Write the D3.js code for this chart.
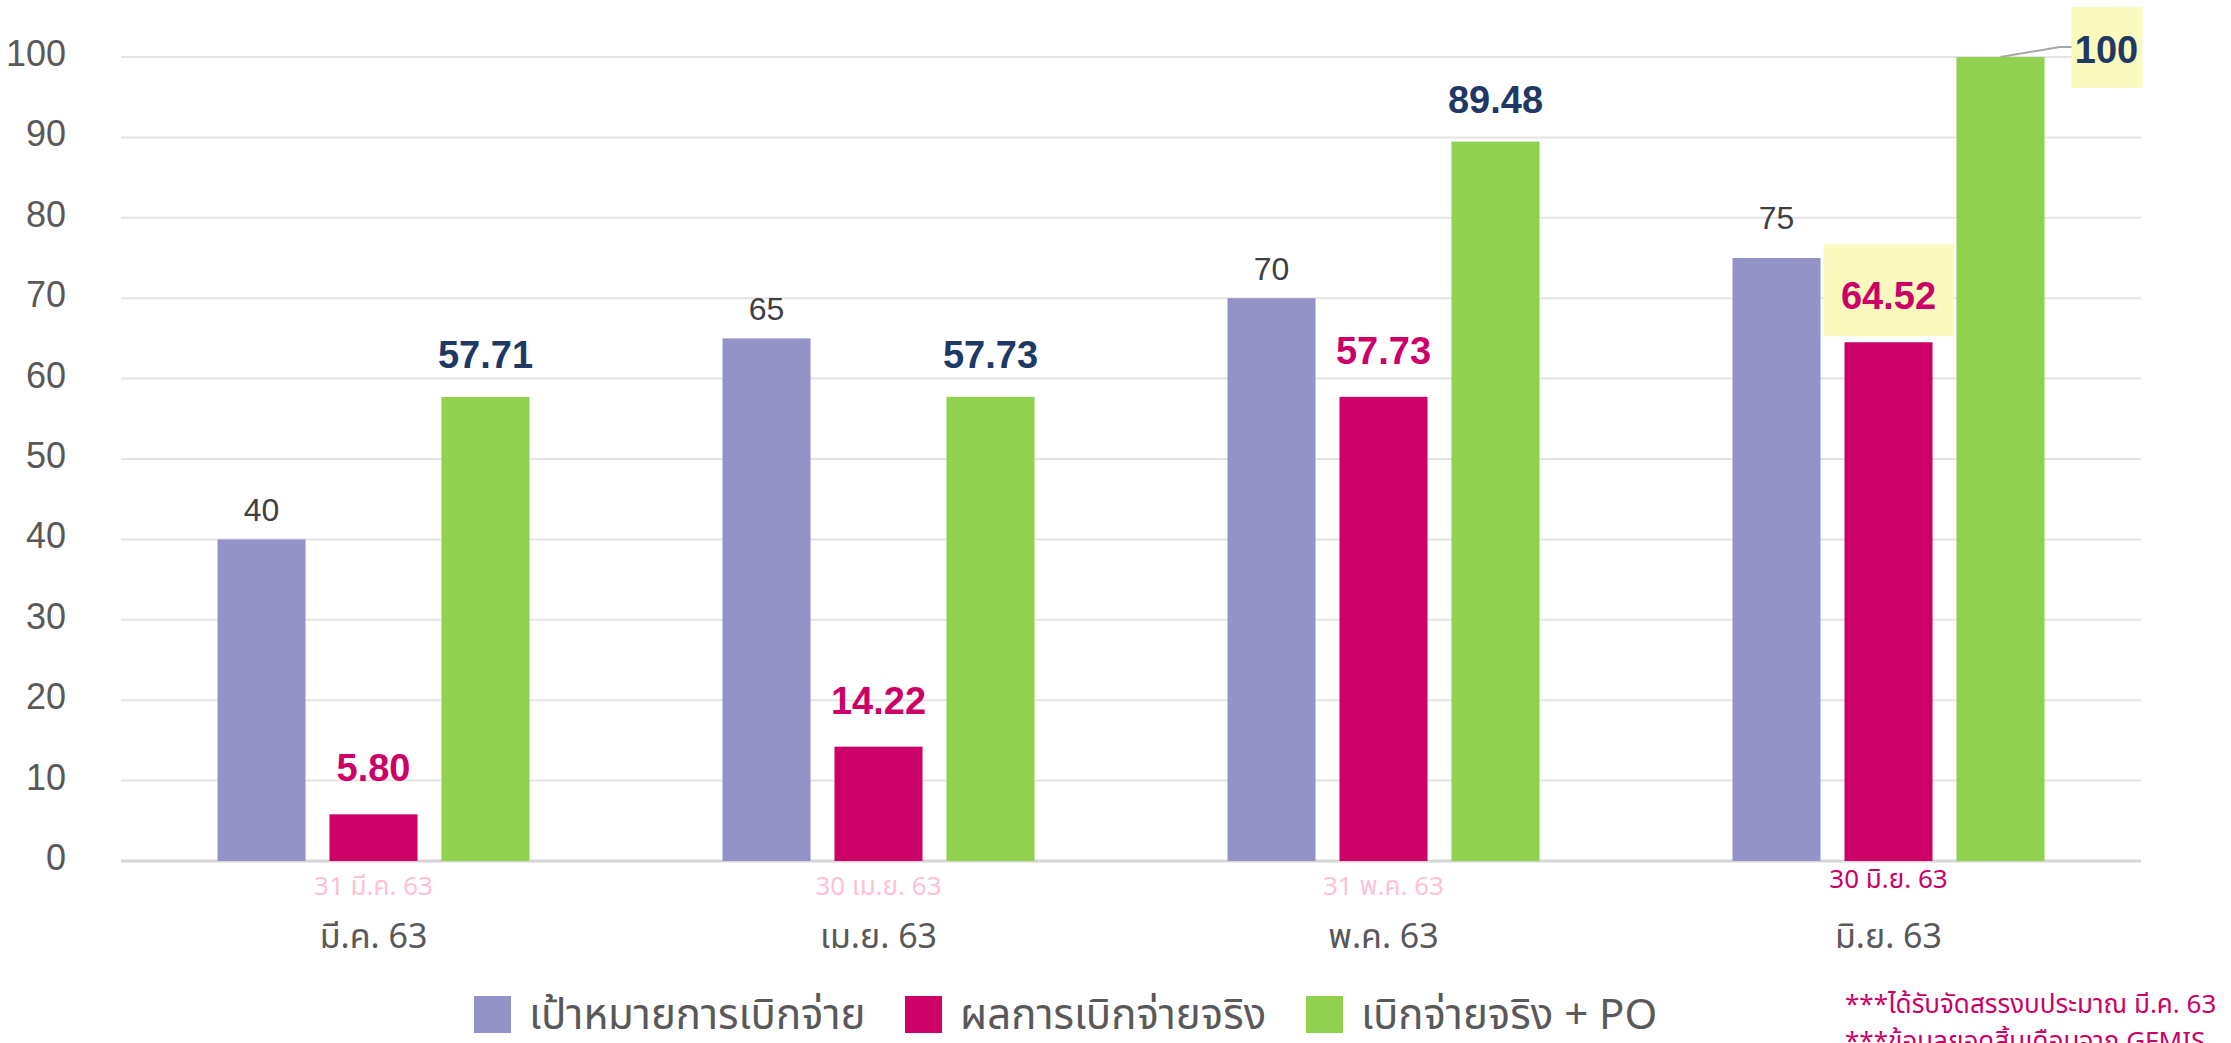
<!DOCTYPE html>
<html>
<head>
<meta charset="utf-8">
<script src="https://cdn.jsdelivr.net/npm/d3@7"></script>
<style>
  body { margin: 0; background: #fff; }
  svg { display: block; }
  .num { font-family: "Liberation Sans Narrow", "Liberation Sans", sans-serif; }
  .th { font-family: "Noto Sans Thai", "Noto Sans", sans-serif; }
</style>
</head>
<body>
<svg id="chart"></svg>
<script>
// data
var categories = ["มี.ค. 63", "เม.ย. 63", "พ.ค. 63", "มิ.ย. 63"];
var dateLabels = ["31 มี.ค. 63", "30 เม.ย. 63", "31 พ.ค. 63", "30 มิ.ย. 63"];
var seriesNames = ["เป้าหมายการเบิกจ่าย", "ผลการเบิกจ่ายจริง", "เบิกจ่ายจริง + PO"];
var targetValues = [40, 65, 70, 75];
var actualValues = [5.80, 14.22, 57.73, 64.52];
var actualPOValues = [57.71, 57.73, 89.48, 100];
var yTicks = [0, 10, 20, 30, 40, 50, 60, 70, 80, 90, 100];
var notes = ["***ได้รับจัดสรรงบประมาณ มี.ค. 63", "***ข้อมูลยอดสิ้นเดือนจาก GFMIS"];

window.onload = function () {
    var W = 2231, H = 1043;
    var colors = ["#9393C8", "#CC0066", "#92D050"];
    var labelColors = ["#404040", "#CC0066", "#1F3864"];

    var svg = d3.select("#chart").attr("width", W).attr("height", H);

    var y = d3.scaleLinear().domain([0, 100]).range([861, 57]);
    var x0 = d3.scaleBand().domain(categories).range([121, 2141]);
    var x1 = d3.scaleBand().domain([0, 1, 2]).range([-156, 156]).paddingInner(0.214);

    // gridlines
    svg.append("g").selectAll("line").data(yTicks).enter().append("line")
        .attr("x1", 121).attr("x2", 2141)
        .attr("y1", function (d) { return y(d); })
        .attr("y2", function (d) { return y(d); })
        .style("stroke", function (d) { return d == 0 ? "#d6d6d6" : "#e4e4e4"; })
        .style("stroke-width", function (d) { return d == 0 ? 3 : 2; });

    // y tick labels
    svg.append("g").selectAll("text").data(yTicks).enter().append("text")
        .attr("class", "num")
        .attr("x", 66).attr("y", function (d) { return y(d) + 9; })
        .attr("text-anchor", "end")
        .style("font-size", "36px").style("fill", "#595959")
        .text(function (d) { return d; });

    var series = [targetValues, actualValues, actualPOValues];
    var fmt = function (v) { return Number.isInteger(v) ? String(v) : v.toFixed(2); };

    // highlight boxes (June actual, June actual+PO)
    var jun = categories[3];
    var redTop = y(actualValues[3]);
    svg.append("rect")
        .attr("x", x0(jun) + x0.bandwidth() / 2 + x1(1) + x1.bandwidth() / 2 - 65)
        .attr("y", redTop - 98).attr("width", 130).attr("height", 92)
        .style("fill", "#FAFABE");

    var greenX = x0(jun) + x0.bandwidth() / 2 + x1(2) + x1.bandwidth() / 2;
    svg.append("rect")
        .attr("x", greenX + 71).attr("y", y(actualPOValues[3]) - 50)
        .attr("width", 71).attr("height", 81)
        .style("fill", "#FAFABE");
    svg.append("polyline")
        .attr("points", [[greenX, y(actualPOValues[3])], [greenX + 59, y(actualPOValues[3]) - 10], [greenX + 71, y(actualPOValues[3]) - 10]].join(" "))
        .style("fill", "none").style("stroke", "#a6a6a6").style("stroke-width", 2);

    // bars + labels
    series.forEach(function (vals, s) {
        var g = svg.append("g");
        g.selectAll("rect").data(vals).enter().append("rect")
            .attr("x", function (d, i) { return x0(categories[i]) + x0.bandwidth() / 2 + x1(s); })
            .attr("y", function (d) { return y(d); })
            .attr("width", x1.bandwidth())
            .attr("height", function (d) { return y(0) - y(d); })
            .style("fill", colors[s]);

        g.selectAll("text").data(vals).enter().append("text")
            .attr("class", "num")
            .attr("x", function (d, i) {
                var cx = x0(categories[i]) + x0.bandwidth() / 2 + x1(s) + x1.bandwidth() / 2;
                if (s == 2 && i == 3) return cx + 106;
                return cx;
            })
            .attr("y", function (d, i) {
                if (s == 2 && i == 3) return y(d) + 6;
                if (s == 0 && i == 3) return y(d) - 29;
                return y(d) - [18, 33, 29][s];
            })
            .attr("text-anchor", "middle")
            .style("font-size", s == 0 ? "32px" : "38px")
            .style("font-weight", s == 0 ? "normal" : "bold")
            .style("fill", labelColors[s])
            .text(function (d) { return fmt(d); });
    });

    // date labels under the axis
    svg.append("g").selectAll("text").data(dateLabels).enter().append("text")
        .attr("class", "th")
        .attr("x", function (d, i) { return x0(categories[i]) + x0.bandwidth() / 2; })
        .attr("y", function (d, i) { return i == 3 ? 888 : 895; })
        .attr("text-anchor", "middle")
        .style("font-size", "26px")
        .style("fill", function (d, i) { return i == 3 ? "#CC0066" : "#FFC1D6"; })
        .text(function (d) { return d; });

    // category labels
    svg.append("g").selectAll("text").data(categories).enter().append("text")
        .attr("class", "th")
        .attr("x", function (d) { return x0(d) + x0.bandwidth() / 2; })
        .attr("y", 948)
        .attr("text-anchor", "middle")
        .style("font-size", "34px").style("fill", "#595959")
        .text(function (d) { return d; });

    // legend
    var legX = [474, 905, 1306];
    var leg = svg.append("g").selectAll("g").data(seriesNames).enter().append("g")
        .attr("transform", function (d, i) { return "translate(" + legX[i] + ",996)"; });
    leg.append("rect").attr("width", 37).attr("height", 37)
        .style("fill", function (d, i) { return colors[i]; });
    leg.append("text").attr("class", "th")
        .attr("x", 55).attr("y", 33)
        .style("font-size", "42px").style("fill", "#595959")
        .text(function (d) { return d; });

    // notes
    svg.append("g").selectAll("text").data(notes).enter().append("text")
        .attr("class", "th")
        .attr("x", 1845).attr("y", function (d, i) { return 1013 + i * 37; })
        .style("font-size", "26px").style("fill", "#CC0066")
        .text(function (d) { return d; });
};
</script>
</body>
</html>
